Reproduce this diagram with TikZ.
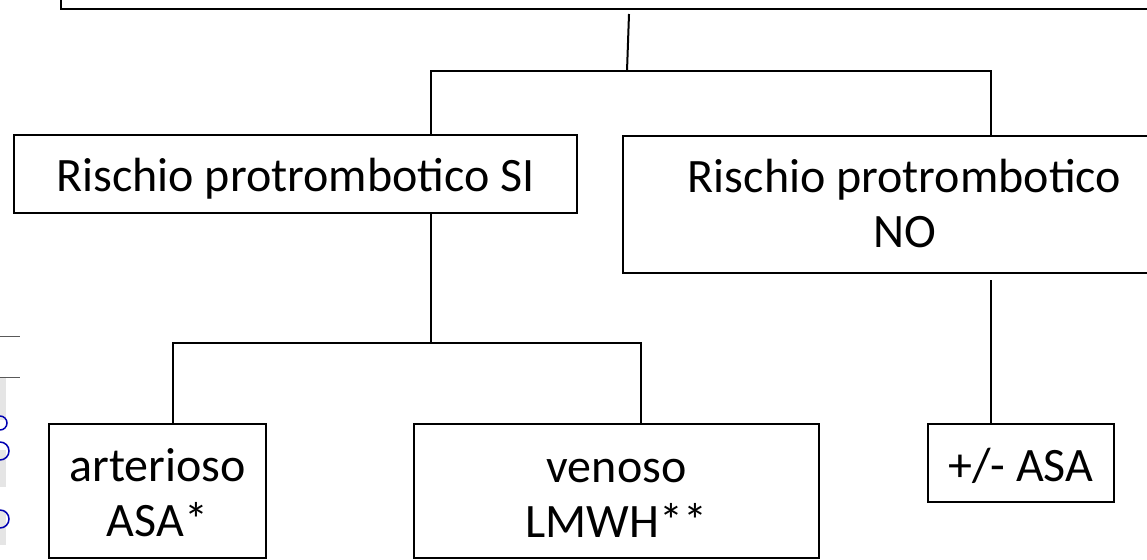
\documentclass[tikz,border=0pt]{standalone}
\usepackage{fontspec}
\setmainfont{Carlito}
\begin{document}
\begin{tikzpicture}[x=1pt,y=-1pt,
  box/.style={draw, line width=2pt, inner sep=0pt, font=\fontsize{48pt}{55pt}\selectfont},
  conn/.style={line width=2pt},
  artline/.style={draw=black!65, line width=1pt}]
\useasboundingbox (0,0) rectangle (1147,559);
\clip (0,0) rectangle (1147,559);
\fill[white] (0,0) rectangle (1147,559);
% left-edge fragments
\fill[black!10] (0,378) rectangle (6,420);
\fill[black!10] (0,450) rectangle (6,487);
\fill[black!10] (0,510) rectangle (6,545);
\draw[artline] (0,336) -- (20,336);
\draw[artline] (0,377) -- (20,377);
\draw[blue!70!black, line width=1.5pt] (0,430) arc[start angle=90, end angle=-90, radius=7];
\draw[blue!70!black, line width=1.5pt] (0,460) arc[start angle=90, end angle=-90, radius=9];
\draw[blue!70!black, line width=1.5pt] (0,528) arc[start angle=90, end angle=-90, radius=9];
% boxes
\node[box, minimum width=1200pt, minimum height=80pt] (top) at (661,-31) {};
\node[box, minimum width=563pt, minimum height=78pt, text height=35.4pt, text depth=0pt] (si) at (295.5,174) {Rischio protrombotico SI};
\node[box, minimum width=563pt, minimum height=137.5pt, text height=0pt, text depth=23.1pt] (no) at (904.5,204.25) {\parbox[t]{540pt}{\centering Rischio protrombotico\\NO}};
\node[box, minimum width=217pt, minimum height=134.5pt, text height=0pt, text depth=17.6pt] (art) at (157.5,490.75) {\parbox[t]{210pt}{\centering arterioso\\ASA*}};
\node[box, minimum width=405pt, minimum height=134.5pt, text height=0pt, text depth=16.5pt] (ven) at (616.5,490.75) {\parbox[t]{380pt}{\centering venoso\\LMWH**}};
\node[box, minimum width=186.5pt, minimum height=78pt, text height=38.4pt, text depth=0pt] (asa) at (1020.75,462.5) {+/- ASA};
% connectors
\coordinate (t1) at (629,14);
\coordinate (j1) at (627,71);
\coordinate (h1l) at (431,71);
\coordinate (h1r) at (991,71);
\draw[conn] (t1) -- (j1);
\draw[conn] (si.north -| h1l) -- (h1l) -- (h1r) -- (no.north -| h1r);
\coordinate (h2l) at (173,343);
\coordinate (h2m) at (431,343);
\coordinate (h2r) at (641,343);
\draw[conn] (si.south -| h2m) -- (h2m);
\draw[conn] (art.north -| h2l) -- (h2l) -- (h2r) -- (ven.north -| h2r);
\coordinate (n1) at (991,280);
\draw[conn] (n1) -- (asa.north -| n1);
\end{tikzpicture}
\end{document}
